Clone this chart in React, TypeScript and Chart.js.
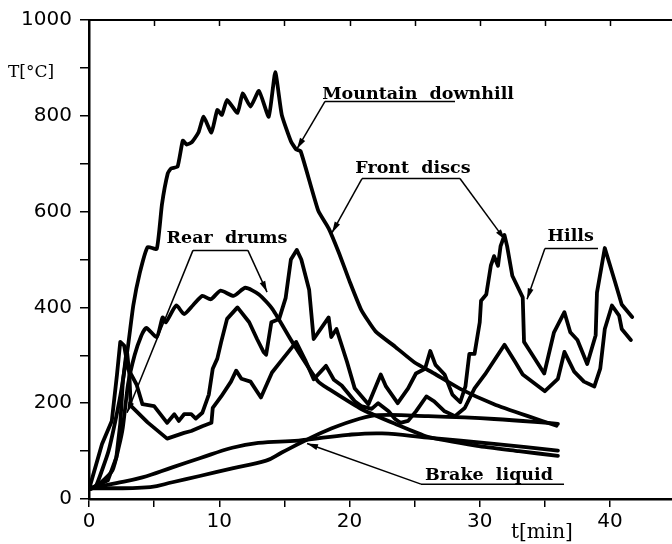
import React, { useEffect, useRef } from "react";
import { Chart, registerables } from "chart.js";

Chart.register(...registerables);

// Axis ranges / ticks
const X_MIN = 0;
const X_MAX = 44.76;
const X_STEP = 5;
const X_LABEL_STEP = 10;
const Y_MIN = 0;
const Y_MAX = 1000;
const Y_STEP = 100;
const Y_LABEL_STEP = 200;

// Mountain downhill – front discs
const mfT = [0, 0.5, 1.0, 1.5, 2.0, 2.5, 3.0, 3.4, 3.9, 4.5, 5.2, 5.6, 6.05, 6.3, 6.8, 7.2, 7.5, 7.9, 8.4, 8.8, 9.4, 9.85, 10.2, 10.6, 11.4, 11.8, 12.4, 13.05, 13.8, 14.3, 14.8, 15.5, 15.9, 16.25, 17.6, 18.4, 19.2, 20.0, 20.9, 22.0, 23.5, 25.0, 26.5, 28.5, 31.1, 33.7, 35.9];
const mfV = [20, 25, 60, 100, 160, 230, 320, 404, 472, 526, 522, 615, 680, 690, 694, 748, 740, 745, 765, 798, 765, 812, 802, 833, 806, 847, 819, 852, 798, 891, 802, 747, 730, 726, 602, 565, 513, 455, 395, 350, 318, 285, 262, 230, 198, 173, 153];

// Mountain downhill – rear drums
const mrT = [0, 0.85, 1.8, 2.3, 2.6, 3.0, 3.5, 4.0, 4.4, 5.2, 5.65, 5.9, 6.7, 7.3, 8.0, 8.7, 9.35, 10.1, 11.1, 12.0, 13.05, 14.1, 15.6, 17.6, 18.4, 20.9, 23.5, 26.0, 29.8, 33.0, 36.0];
const mrV = [20, 33, 60, 110, 150, 240, 300, 340, 357, 338, 379, 369, 404, 386, 405, 424, 417, 435, 424, 441, 427, 396, 328, 245, 230, 188, 157, 130, 111, 100, 90];

// Hills – front discs
const hfT = [0, 1.0, 1.75, 2.15, 2.4, 2.7, 3.0, 3.65, 4.1, 5.0, 6.0, 6.55, 6.9, 7.3, 7.85, 8.2, 8.7, 9.2, 9.5, 9.85, 10.15, 10.6, 11.4, 12.3, 12.9, 13.4, 13.6, 14.0, 14.6, 15.1, 15.5, 15.95, 16.3, 16.9, 17.25, 18.4, 18.6, 19.0, 19.8, 20.4, 21.45, 22.4, 22.8, 23.7, 24.5, 25.1, 25.8, 26.2, 26.6, 27.3, 27.9, 28.5, 28.9, 29.2, 29.6, 30.0, 30.1, 30.5, 30.85, 31.1, 31.4, 31.6, 31.9, 32.1, 32.5, 33.3, 33.4, 33.8, 34.95, 35.7, 36.5, 36.95, 37.5, 38.25, 38.9, 39.0, 39.6, 40.4, 40.9, 41.7];
const hfV = [20, 115, 163, 260, 328, 320, 272, 239, 198, 194, 159, 177, 163, 177, 177, 168, 180, 218, 272, 293, 328, 376, 400, 369, 334, 307, 301, 369, 376, 420, 500, 520, 500, 437, 334, 379, 338, 355, 287, 231, 198, 260, 235, 200, 231, 262, 272, 309, 280, 260, 218, 202, 235, 303, 303, 369, 414, 427, 487, 507, 487, 528, 551, 528, 466, 421, 328, 311, 262, 348, 390, 348, 332, 282, 342, 431, 524, 452, 406, 380];

// Hills – rear drums
const hrT = [0, 1.45, 2.1, 2.4, 2.6, 2.9, 3.1, 3.2, 4.5, 6.0, 7.3, 7.85, 8.7, 9.4, 9.5, 10.15, 10.9, 11.3, 11.7, 12.4, 13.2, 14.05, 14.8, 15.6, 15.9, 16.6, 17.25, 18.2, 18.8, 19.4, 20.4, 20.9, 21.7, 22.2, 23.0, 23.5, 23.9, 24.5, 25.1, 25.9, 26.5, 27.3, 28.1, 28.85, 29.6, 30.4, 31.9, 32.7, 33.3, 35.0, 36.0, 36.5, 37.25, 38.0, 38.8, 39.25, 39.6, 40.15, 40.7, 40.9, 41.6];
const hrV = [20, 39, 87, 157, 245, 313, 260, 195, 160, 126, 138, 142, 152, 159, 190, 214, 245, 268, 251, 245, 212, 264, 290, 317, 328, 290, 250, 278, 249, 237, 204, 194, 188, 200, 183, 167, 159, 163, 183, 214, 204, 183, 173, 190, 231, 260, 322, 287, 260, 225, 251, 307, 266, 245, 235, 272, 355, 404, 383, 355, 332];

// Brake liquid – mountain downhill
const bmT = [0, 2.1, 4.1, 6.4, 8.5, 11.0, 13.0, 16.1, 19.9, 22.5, 26.0, 31.1, 36.0];
const bmV = [22, 33, 45, 66, 85, 107, 117, 122, 134, 137, 128, 115, 101];

// Brake liquid – hills
const bhT = [0, 4.7, 6.4, 8.5, 11.0, 13.6, 14.8, 16.6, 18.6, 20.7, 22.2, 26.0, 31.1, 36.0];
const bhV = [22, 25, 35, 48, 64, 80, 97, 122, 147, 167, 175, 173, 167, 157];

// Annotation texts (data coordinates: t, T)
const labelTexts = ["Mountain  downhill", "Front  discs", "Hills", "Rear  drums", "Brake  liquid"];
const labelT = [17.9, 20.45, 35.2, 5.95, 25.8];
const labelV = [835, 680, 539, 535, 39];

// Leader lines: [t1, T1, t2, T2, arrow(1/0)]
const leaders: number[][] = [
  [18.12, 830, 28.1, 830, 0],
  [18.12, 830, 15.97, 731, 1],
  [20.96, 669, 28.48, 669, 0],
  [20.96, 669, 18.66, 556, 1],
  [28.48, 669, 31.94, 541, 1],
  [35.0, 523, 39.08, 523, 0],
  [35.0, 523, 33.63, 417, 1],
  [7.98, 519, 12.2, 519, 0],
  [7.98, 519, 2.92, 180, 1],
  [12.2, 519, 13.67, 432, 1],
  [25.49, 31, 36.47, 31, 0],
  [25.49, 31, 16.74, 116, 1],
];

function pts(ts: number[], vs: number[]) {
  return ts.map((t, i) => ({ x: t, y: vs[i] }));
}

const annotate = {
  id: "annotate",
  afterDraw(chart: any) {
    const { ctx, chartArea } = chart;
    const xs = chart.scales.x;
    const ys = chart.scales.y;
    ctx.save();
    ctx.strokeStyle = "#000";
    ctx.fillStyle = "#000";
    // inward ticks on top frame line
    ctx.lineWidth = 1.5;
    for (let v = X_STEP; v < X_MAX; v += X_STEP) {
      const px = Math.round(xs.getPixelForValue(v)) + 0.5;
      ctx.beginPath();
      ctx.moveTo(px, chartArea.top);
      ctx.lineTo(px, chartArea.top + 6);
      ctx.stroke();
    }
    // leader lines
    ctx.lineWidth = 1.5;
    leaders.forEach((l) => {
      const x1 = xs.getPixelForValue(l[0]);
      const y1 = ys.getPixelForValue(l[1]);
      const x2 = xs.getPixelForValue(l[2]);
      const y2 = ys.getPixelForValue(l[3]);
      ctx.beginPath();
      ctx.moveTo(x1, y1);
      ctx.lineTo(x2, y2);
      ctx.stroke();
      if (l[4]) {
        const a = Math.atan2(y2 - y1, x2 - x1);
        const len = 11;
        const w = 3;
        ctx.beginPath();
        ctx.moveTo(x2, y2);
        ctx.lineTo(x2 - len * Math.cos(a) + w * Math.sin(a), y2 - len * Math.sin(a) - w * Math.cos(a));
        ctx.lineTo(x2 - len * Math.cos(a) - w * Math.sin(a), y2 - len * Math.sin(a) + w * Math.cos(a));
        ctx.closePath();
        ctx.fill();
      }
    });
    // labels
    ctx.font = "bold 17.5px 'DejaVu Serif'";
    ctx.textBaseline = "alphabetic";
    ctx.textAlign = "left";
    labelTexts.forEach((s, i) => {
      ctx.fillText(s, xs.getPixelForValue(labelT[i]), ys.getPixelForValue(labelV[i]));
    });
    // axis titles
    ctx.font = "17px 'DejaVu Serif'";
    ctx.fillText("T[°C]", chartArea.left - 81, ys.getPixelForValue(900) + 9);
    ctx.font = "20px 'DejaVu Serif'";
    ctx.fillText("t[min]", xs.getPixelForValue(32.4), chartArea.bottom + 39);
    ctx.restore();
  },
};

export default function App() {
  const ref = useRef<HTMLCanvasElement | null>(null);
  useEffect(() => {
    document.body.style.margin = "0";
    const canvas = ref.current;
    if (!canvas) return;
    const line = (data: any[], tension: number) => ({
      data,
      borderColor: "#000",
      borderWidth: 3.8,
      pointRadius: 0,
      fill: false,
      tension,
      borderJoinStyle: "round",
      borderCapStyle: "round",
    });
    const chart = new Chart(canvas, {
      type: "line",
      data: {
        datasets: [
          line(pts(mfT, mfV), 0.15),
          line(pts(mrT, mrV), 0.2),
          line(pts(hfT, hfV), 0),
          line(pts(hrT, hrV), 0),
          line(pts(bmT, bmV), 0.4),
          line(pts(bhT, bhV), 0.4),
        ] as any,
      },
      options: {
        animation: false,
        responsive: false,
        maintainAspectRatio: false,
        layout: { padding: { left: 0, right: 0, top: 15, bottom: 0 } },
        plugins: { legend: { display: false }, tooltip: { enabled: false } },
        scales: {
          x: {
            type: "linear",
            position: "bottom",
            min: X_MIN,
            max: X_MAX,
            afterFit: (s: any) => {
              s.height = 45;
            },
            border: { display: true, color: "#000", width: 2.5 },
            grid: { drawOnChartArea: false, drawTicks: true, tickLength: 8, color: "#000", lineWidth: 1.5 },
            ticks: {
              stepSize: X_STEP,
              includeBounds: false,
              autoSkip: false,
              maxRotation: 0,
              padding: 3,
              color: "#000",
              font: { family: "'DejaVu Sans'", size: 20 },
              callback: (v: any) => (Number(v) % X_LABEL_STEP === 0 ? String(v) : ""),
            },
          },
          x2: {
            type: "linear",
            axis: "x",
            position: "top",
            min: X_MIN,
            max: X_MAX,
            afterFit: (s: any) => {
              s.height = 0;
            },
            border: { display: true, color: "#000", width: 2 },
            grid: { drawOnChartArea: false, drawTicks: false },
            ticks: { display: false },
          },
          y: {
            type: "linear",
            position: "left",
            min: Y_MIN,
            max: Y_MAX,
            afterFit: (s: any) => {
              s.width = 89;
            },
            border: { display: true, color: "#000", width: 2.5 },
            grid: { drawOnChartArea: false, drawTicks: true, tickLength: 9, color: "#000", lineWidth: 1.5 },
            ticks: {
              stepSize: Y_STEP,
              includeBounds: false,
              autoSkip: false,
              padding: 8,
              color: "#000",
              font: { family: "'DejaVu Sans'", size: 20 },
              callback: (v: any) => (Number(v) % Y_LABEL_STEP === 0 ? String(v) : ""),
            },
          },
        },
      } as any,
      plugins: [annotate],
    });
    return () => chart.destroy();
  }, []);
  return (
    <div style={{ width: 672, height: 544 }}>
      <canvas ref={ref} width={672} height={544} style={{ display: "block" }} />
    </div>
  );
}
